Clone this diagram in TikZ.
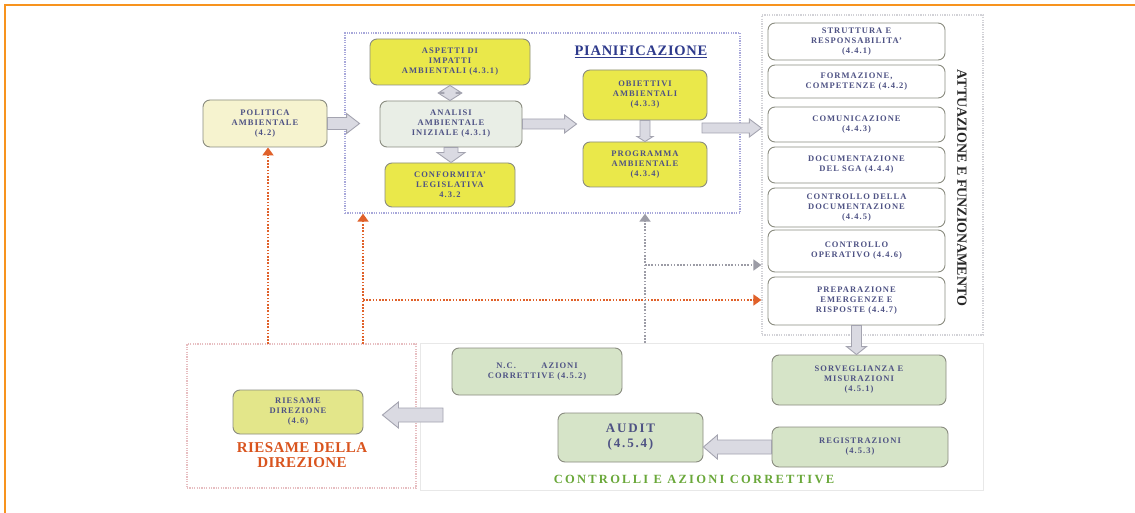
\documentclass[tikz,border=0pt]{standalone}
\usepackage{fontspec}
\setmainfont{Liberation Serif}
\usetikzlibrary{arrows.meta,calc}

\definecolor{frameorange}{HTML}{F7931E}
\definecolor{dashorange}{HTML}{E0612A}
\definecolor{dashgray}{HTML}{9C9CA6}
\definecolor{boxline}{HTML}{8A8C80}
\definecolor{txt}{HTML}{4E5284}
\definecolor{yel}{HTML}{EAE84A}
\definecolor{cream}{HTML}{F6F3CF}
\definecolor{pale}{HTML}{E9EEE6}
\definecolor{grn}{HTML}{D6E4C8}
\definecolor{olive}{HTML}{E3E68A}
\definecolor{arrfill}{HTML}{DADAE2}
\definecolor{arrline}{HTML}{A4A4B0}
\definecolor{navy}{HTML}{2E3A8C}
\definecolor{titlegreen}{HTML}{6AA83A}
\definecolor{titlered}{HTML}{D9541E}

\newcommand\boxfont{\bfseries\fontsize{8.5}{10}\selectfont\addfontfeature{LetterSpace=12}}

% rectangle node given by its corners (pixel-like units)
\newcommand\boxat[7]{%
  \node[#6, minimum width={(#4-#2)*1pt}, minimum height={(#5-#3)*1pt}]
    (#1) at ({(#2+#4)/2},{(#3+#5)/2}) {#7};}

% horizontal block arrow: from, to, half shaft, half head, head length
\newcommand\hblock[5]{%
  \draw[barrow] let \p1=(#1), \p2=(#2), \n1={(\x2>\x1)*2-1} in
    (\x1,{\y1+#3}) -- ({\x2-(\n1)*#5},{\y1+#3}) -- ({\x2-(\n1)*#5},{\y1+#4})
    -- (\x2,\y1) -- ({\x2-(\n1)*#5},{\y1-#4}) -- ({\x2-(\n1)*#5},{\y1-#3})
    -- (\x1,{\y1-#3}) -- cycle;}
% vertical block arrow
\newcommand\vblock[5]{%
  \draw[barrow] let \p1=(#1), \p2=(#2), \n1={(\y2>\y1)*2-1} in
    ({\x1+#3},\y1) -- ({\x1+#3},{\y2-(\n1)*#5}) -- ({\x1+#4},{\y2-(\n1)*#5})
    -- (\x1,\y2) -- ({\x1-#4},{\y2-(\n1)*#5}) -- ({\x1-#3},{\y2-(\n1)*#5})
    -- ({\x1-#3},\y1) -- cycle;}
% vertical block arrow with heads at both ends
\newcommand\vblocktwo[5]{%
  \draw[barrow] let \p1=(#1), \p2=(#2), \n1={(\y2>\y1)*2-1} in
    (\x1,\y1) -- ({\x1+#4},{\y1+(\n1)*#5}) -- ({\x1+#3},{\y1+(\n1)*#5})
    -- ({\x1+#3},{\y2-(\n1)*#5}) -- ({\x1+#4},{\y2-(\n1)*#5}) -- (\x1,\y2)
    -- ({\x1-#4},{\y2-(\n1)*#5}) -- ({\x1-#3},{\y2-(\n1)*#5})
    -- ({\x1-#3},{\y1+(\n1)*#5}) -- ({\x1-#4},{\y1+(\n1)*#5}) -- cycle;}

\tikzset{
  card/.style={draw=boxline, line width=0.9pt, rounded corners=7pt,
    align=center, text=txt, font=\boxfont, inner sep=1pt},
  yelcard/.style={card, fill=yel},
  creamcard/.style={card, fill=cream},
  palecard/.style={card, fill=pale},
  whitecard/.style={card, fill=white},
  grncard/.style={card, fill=grn},
  olivecard/.style={card, fill=olive},
  areaframe/.style={draw=#1, line width=1.3pt, dash pattern=on 1.2pt off 1.2pt},
  softframe/.style={draw=#1, line width=0.8pt},
  barrow/.style={draw=arrline, fill=arrfill, line width=0.9pt, line join=miter},
  orangelink/.style={draw=dashorange, line width=1.8pt, dash pattern=on 1.6pt off 1.6pt,
    -{Triangle[width=11pt,length=8pt]}},
  graylink/.style={draw=dashgray, line width=1.8pt, dash pattern=on 1.6pt off 1.6pt,
    -{Triangle[width=11pt,length=8pt]}},
}

\begin{document}
\begin{tikzpicture}[x=1pt,y=-1pt]
\useasboundingbox (0,0) rectangle (1135,513);
\fill[white] (0,0) rectangle (1135,513);

% page border
\draw[frameorange, line width=2.6pt] (5,513) -- (5,5) -- (1135,5);

% area frames
\boxat{pian}{345}{33}{740}{213}{areaframe=dashgray!70!blue!60!white}{}
\boxat{att}{762}{15}{983}{335}{areaframe=dashgray!45}{}
\boxat{rr}{187}{344}{416}{488}{areaframe=dashgray!60!red!40!white}{}
\boxat{ctl}{420}{343}{983}{490}{softframe=gray!18}{}

% planning
\boxat{pol}{203}{100}{327}{147}{creamcard}{POLITICA\\AMBIENTALE\\(4.2)}
\boxat{asp}{370}{39}{530}{85}{yelcard}{ASPETTI DI\\IMPATTI\\AMBIENTALI (4.3.1)}
\boxat{ana}{380}{101}{522}{147}{palecard}{ANALISI\\AMBIENTALE\\INIZIALE (4.3.1)}
\boxat{con}{385}{163}{515}{207}{yelcard}{CONFORMITA'\\LEGISLATIVA\\4.3.2}
\boxat{obi}{583}{70}{707}{120}{yelcard}{OBIETTIVI\\AMBIENTALI\\(4.3.3)}
\boxat{prg}{583}{142}{707}{187}{yelcard}{PROGRAMMA\\AMBIENTALE\\(4.3.4)}
\node[text=navy, font=\bfseries\fontsize{14.5}{16}\selectfont\addfontfeature{LetterSpace=5}]
  (piant) at (641,52) {\underline{PIANIFICAZIONE}};

% implementation
\boxat{s1}{768}{23}{945}{60}{whitecard}{STRUTTURA E\\RESPONSABILITA'\\(4.4.1)}
\boxat{s2}{768}{65}{945}{98}{whitecard}{FORMAZIONE,\\COMPETENZE (4.4.2)}
\boxat{s3}{768}{107}{945}{142}{whitecard}{COMUNICAZIONE\\(4.4.3)}
\boxat{s4}{768}{147}{945}{183}{whitecard}{DOCUMENTAZIONE\\DEL SGA (4.4.4)}
\boxat{s5}{768}{188}{945}{227}{whitecard}{CONTROLLO DELLA\\DOCUMENTAZIONE\\(4.4.5)}
\boxat{s6}{768}{230}{945}{272}{whitecard}{CONTROLLO\\OPERATIVO (4.4.6)}
\boxat{s7}{768}{277}{945}{325}{whitecard}{PREPARAZIONE\\EMERGENZE E\\RISPOSTE (4.4.7)}
\node[rotate=-90, text=black!85, font=\bfseries\fontsize{14}{15}\selectfont]
  (attt) at (962,188) {ATTUAZIONE E FUNZIONAMENTO};

% checking and corrective action
\boxat{nc}{452}{348}{622}{395}{grncard}{N.C.\hspace{3em}AZIONI\\CORRETTIVE (4.5.2)}
\boxat{sor}{772}{355}{946}{405}{grncard}{SORVEGLIANZA E\\MISURAZIONI\\(4.5.1)}
\boxat{aud}{558}{413}{703}{462}{grncard, font=\bfseries\fontsize{13}{15}\selectfont\addfontfeature{LetterSpace=14}}{AUDIT\\(4.5.4)}
\boxat{reg}{772}{427}{948}{467}{grncard}{REGISTRAZIONI\\(4.5.3)}
\node[text=titlegreen, font=\bfseries\fontsize{12.5}{14}\selectfont\addfontfeature{LetterSpace=18}]
  (ctlt) at (694,479) {CONTROLLI E AZIONI CORRETTIVE};

% management review
\boxat{rd}{233}{390}{363}{434}{olivecard}{RIESAME\\DIREZIONE\\(4.6)}
\node[text=titlered, align=center,
  font=\bfseries\fontsize{15}{15}\selectfont\addfontfeature{LetterSpace=3}]
  (rrt) at (302,455) {RIESAME DELLA\\DIREZIONE};

% block arrows
\coordinate (pa) at (702,128);
\coordinate (rt) at (443,415);
\hblock{pol.east}{$(ana.west)+(-20,0)$}{6pt}{10pt}{13pt}
\hblock{ana.east}{$(obi.west)+(-6,0)$}{5pt}{9pt}{12pt}
\hblock{pa}{att.west}{5pt}{9pt}{12pt}
\vblocktwo{asp.south}{ana.north}{6pt}{11pt}{7pt}
\vblock{ana.south}{con.north}{7pt}{14pt}{10pt}
\vblock{obi.south}{prg.north}{5pt}{8pt}{5pt}
\vblock{s7.south}{sor.north}{5pt}{10pt}{8pt}
\hblock{rt}{$(rd.east)+(19,0)$}{7pt}{13pt}{16pt}
\hblock{reg.west}{aud.east}{7pt}{12pt}{14pt}

% feedback links
\coordinate (o1) at (268,344);
\coordinate (o2) at (363,344);
\coordinate (o2m) at (363,300);
\coordinate (g1) at (645,343);
\coordinate (g1m) at (645,265);
\draw[orangelink] (o1) -- (o1 |- pol.south);
\draw[orangelink] (o2) -- (o2 |- pian.south);
\draw[orangelink] (o2m) -- (o2m -| att.west);
\draw[graylink] (g1) -- (g1 |- pian.south);
\draw[graylink] (g1m) -- (g1m -| att.west);
\end{tikzpicture}
\end{document}
